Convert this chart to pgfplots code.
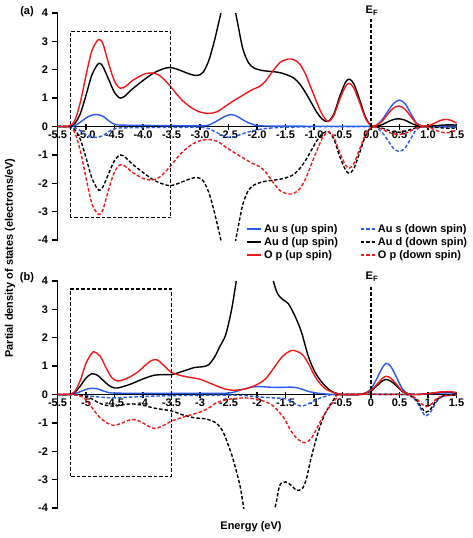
\documentclass[border=0pt]{standalone}
\usepackage{fontspec}
\setmainfont{Liberation Sans}
\usepackage{pgfplots}
\pgfplotsset{compat=1.18}
\definecolor{cblue}{RGB}{40,90,235}
\definecolor{cred}{RGB}{240,25,25}
\pgfplotsset{
  pdos/.style={
    scale only axis, width=399pt, height=227pt,
    xmin=-5.5, xmax=1.5, ymin=-4, ymax=4,
    axis x line=middle, axis y line=left,
    axis line style={-, line width=1.4pt, black},
    xtick={-5.5,-5,-4.5,-4,-3.5,-3,-2.5,-2,-1.5,-1,-0.5,0,0.5,1,1.5},
    ytick={-4,-3,-2,-1,0,1,2,3,4},
    hide obscured x ticks=false, hide obscured y ticks=false,
    xtick align=center, ytick align=outside,
    major tick length=6pt,
    tick style={line width=1.3pt, black},
    ticklabel style={font=\bfseries\fontsize{11}{13}\selectfont},
    xticklabel style={yshift=2.5pt},
    /pgf/number format/assume math mode=true,
    every axis plot/.append style={line width=1.4pt, smooth, tension=0.5, no markers},
  },
  dn/.style={dash pattern=on 3.5pt off 2pt},
}
\pgfplotsset{legend image code/.code={\draw[line width=1.4pt,#1] (0pt,0pt) -- (14pt,0pt);}}
\begin{document}
\begin{tikzpicture}
\path[use as bounding box] (0,0) rectangle (472pt,-538pt);
% ---------------- panel (a)
\begin{axis}[pdos, at={(57.5pt,-240pt)}, anchor=south west,
  xticklabel style={/pgf/number format/fixed, /pgf/number format/fixed zerofill, /pgf/number format/precision=1},
]
\addplot[cblue] coordinates {(-5.5,0) (-5.3,0) (-5.2,0.03) (-5.1,0.15) (-5.0,0.3) (-4.9,0.4) (-4.8,0.42) (-4.7,0.36) (-4.6,0.2) (-4.5,0.08) (-4.4,0.05) (-4.0,0.04) (-3.5,0.03) (-3.0,0.02) (-2.85,0.05) (-2.7,0.2) (-2.55,0.37) (-2.45,0.42) (-2.35,0.36) (-2.2,0.18) (-2.05,0.06) (-1.9,0.02) (-1.0,0.01) (0,0.01) (0.1,0.05) (0.2,0.25) (0.3,0.55) (0.4,0.82) (0.5,0.93) (0.6,0.8) (0.7,0.45) (0.8,0.12) (0.9,0.02) (1.0,0.01) (1.5,0.02)};
\addplot[cblue, dn] coordinates {(-5.5,0) (-5.3,0) (-5.2,-0.03) (-5.1,-0.15) (-5.0,-0.28) (-4.9,-0.37) (-4.8,-0.38) (-4.7,-0.32) (-4.6,-0.18) (-4.5,-0.08) (-4.4,-0.05) (-4.0,-0.04) (-3.5,-0.03) (-3.0,-0.03) (-2.85,-0.07) (-2.7,-0.22) (-2.55,-0.36) (-2.45,-0.39) (-2.35,-0.33) (-2.2,-0.22) (-2.0,-0.12) (-1.8,-0.06) (-1.5,-0.03) (-1.0,-0.01) (0,-0.01) (0.1,-0.05) (0.2,-0.22) (0.3,-0.5) (0.4,-0.78) (0.5,-0.88) (0.6,-0.75) (0.7,-0.42) (0.8,-0.1) (0.9,-0.02) (1.0,-0.01) (1.5,-0.02)};
\addplot[black] coordinates {(-5.5,0) (-5.3,0) (-5.2,0.1) (-5.1,0.45) (-5.0,1.1) (-4.9,1.8) (-4.8,2.18) (-4.75,2.22) (-4.7,2.1) (-4.6,1.65) (-4.5,1.2) (-4.4,1.0) (-4.3,1.1) (-4.2,1.3) (-4.0,1.62) (-3.8,1.9) (-3.6,2.06) (-3.5,2.07) (-3.4,2.02) (-3.3,1.94) (-3.15,1.83) (-3.05,1.8) (-2.95,1.9) (-2.85,2.3) (-2.75,3.0) (-2.65,3.85) (-2.55,4.7) (-2.45,4.7) (-2.35,3.75) (-2.25,2.75) (-2.15,2.25) (-2.05,2.06) (-1.9,1.97) (-1.75,1.94) (-1.6,1.9) (-1.45,1.8) (-1.35,1.7) (-1.25,1.5) (-1.15,1.2) (-1.05,0.85) (-0.95,0.5) (-0.85,0.25) (-0.75,0.18) (-0.65,0.45) (-0.55,1.05) (-0.45,1.55) (-0.38,1.67) (-0.3,1.5) (-0.2,0.95) (-0.1,0.35) (0,0.03) (0.1,0.02) (0.2,0.07) (0.3,0.17) (0.4,0.25) (0.5,0.27) (0.6,0.22) (0.7,0.12) (0.8,0.04) (0.9,0.01) (1.0,0.01) (1.2,0.04) (1.35,0.06) (1.5,0.05)};
\addplot[black, dn] coordinates {(-5.5,0) (-5.3,0) (-5.2,-0.1) (-5.1,-0.45) (-5.0,-1.1) (-4.9,-1.8) (-4.8,-2.2) (-4.75,-2.24) (-4.7,-2.12) (-4.6,-1.65) (-4.5,-1.2) (-4.4,-1.0) (-4.3,-1.1) (-4.2,-1.3) (-4.0,-1.62) (-3.8,-1.9) (-3.6,-2.06) (-3.5,-2.08) (-3.4,-2.02) (-3.3,-1.94) (-3.15,-1.83) (-3.05,-1.8) (-2.95,-1.9) (-2.85,-2.3) (-2.75,-3.0) (-2.65,-3.85) (-2.55,-4.7) (-2.45,-4.7) (-2.35,-3.75) (-2.25,-2.75) (-2.15,-2.25) (-2.05,-2.06) (-1.9,-1.95) (-1.75,-1.9) (-1.6,-1.86) (-1.45,-1.78) (-1.35,-1.68) (-1.25,-1.48) (-1.15,-1.2) (-1.05,-0.85) (-0.95,-0.5) (-0.85,-0.25) (-0.75,-0.18) (-0.65,-0.45) (-0.55,-1.05) (-0.45,-1.52) (-0.38,-1.65) (-0.3,-1.48) (-0.2,-0.93) (-0.1,-0.35) (0,-0.03) (0.1,-0.02) (0.2,-0.06) (0.3,-0.13) (0.4,-0.19) (0.5,-0.2) (0.6,-0.17) (0.7,-0.1) (0.8,-0.04) (0.9,-0.01) (1.0,-0.01) (1.2,-0.04) (1.35,-0.06) (1.5,-0.05)};
\addplot[cred] coordinates {(-5.5,0) (-5.3,0.02) (-5.2,0.2) (-5.1,0.85) (-5.0,1.8) (-4.9,2.65) (-4.8,3.03) (-4.75,3.05) (-4.7,2.9) (-4.6,2.2) (-4.5,1.6) (-4.4,1.35) (-4.3,1.42) (-4.2,1.6) (-4.0,1.83) (-3.9,1.88) (-3.8,1.88) (-3.7,1.78) (-3.6,1.6) (-3.5,1.37) (-3.4,1.12) (-3.3,0.9) (-3.15,0.66) (-3.0,0.51) (-2.85,0.46) (-2.7,0.52) (-2.55,0.72) (-2.4,0.92) (-2.25,1.1) (-2.1,1.28) (-1.95,1.42) (-1.85,1.6) (-1.75,1.88) (-1.6,2.25) (-1.45,2.38) (-1.35,2.35) (-1.25,2.2) (-1.15,1.85) (-1.05,1.35) (-0.95,0.85) (-0.85,0.4) (-0.75,0.18) (-0.65,0.4) (-0.55,0.95) (-0.45,1.4) (-0.38,1.52) (-0.3,1.35) (-0.2,0.85) (-0.1,0.3) (0,0.03) (0.1,0.05) (0.2,0.2) (0.3,0.45) (0.4,0.66) (0.5,0.72) (0.6,0.6) (0.7,0.35) (0.8,0.1) (0.9,0.02) (1.0,0.03) (1.1,0.1) (1.2,0.2) (1.3,0.25) (1.4,0.22) (1.5,0.12)};
\addplot[cred, dn] coordinates {(-5.5,0) (-5.3,-0.02) (-5.2,-0.2) (-5.1,-0.85) (-5.0,-1.8) (-4.9,-2.7) (-4.8,-3.07) (-4.75,-3.08) (-4.7,-2.92) (-4.6,-2.2) (-4.5,-1.6) (-4.4,-1.35) (-4.3,-1.42) (-4.2,-1.6) (-4.0,-1.83) (-3.9,-1.88) (-3.8,-1.87) (-3.7,-1.77) (-3.6,-1.58) (-3.5,-1.35) (-3.4,-1.1) (-3.3,-0.88) (-3.15,-0.64) (-3.0,-0.5) (-2.85,-0.46) (-2.7,-0.52) (-2.55,-0.72) (-2.4,-0.92) (-2.25,-1.1) (-2.1,-1.28) (-1.95,-1.42) (-1.85,-1.6) (-1.75,-1.88) (-1.6,-2.25) (-1.45,-2.38) (-1.35,-2.35) (-1.25,-2.2) (-1.15,-1.85) (-1.05,-1.35) (-0.95,-0.85) (-0.85,-0.4) (-0.75,-0.18) (-0.65,-0.38) (-0.55,-0.9) (-0.45,-1.35) (-0.38,-1.47) (-0.3,-1.3) (-0.2,-0.8) (-0.1,-0.3) (0,-0.03) (0.1,-0.03) (0.2,-0.1) (0.3,-0.2) (0.4,-0.26) (0.5,-0.28) (0.6,-0.24) (0.7,-0.15) (0.8,-0.05) (0.9,-0.01) (1.0,-0.03) (1.1,-0.1) (1.2,-0.18) (1.3,-0.22) (1.4,-0.2) (1.5,-0.12)};
\addplot[black, line width=1.1pt, sharp plot, dn] coordinates {(-5.27,-3.22) (-5.27,3.35) (-3.51,3.35) (-3.51,-3.22) (-5.27,-3.22)};
\addplot[black, line width=1.2pt, sharp plot, dn] coordinates {(0,0) (0,3.78)};
\end{axis}
% ---------------- legend (own hidden axis)
\begin{axis}[at={(246pt,-223pt)}, anchor=north west, scale only axis, width=224pt, height=44pt,
  hide axis, xmin=0, xmax=1, ymin=0, ymax=1,
  legend columns=2,
  legend cell align=left,
  legend style={at={(0,1)}, anchor=north west, draw=none, fill=none,
    font=\bfseries\fontsize{11}{13}\selectfont, inner sep=0pt, row sep=1.5pt,
    nodes={font=\bfseries\fontsize{11}{13}\selectfont, inner sep=1pt},
    column sep=1.5pt,
    /tikz/every even column/.append style={column sep=21pt}},
]
\addlegendimage{color=cblue}
\addlegendentry{Au s (up spin)}
\addlegendimage{color=cblue, dn}
\addlegendentry{Au s (down spin)}
\addlegendimage{color=black}
\addlegendentry{Au d (up spin)}
\addlegendimage{color=black, dn}
\addlegendentry{Au d (down spin)}
\addlegendimage{color=cred}
\addlegendentry{O p (up spin)}
\addlegendimage{color=cred, dn}
\addlegendentry{O p (down spin)}
\end{axis}
% ---------------- panel (b)
\begin{axis}[pdos, at={(57.5pt,-508pt)}, anchor=south west]
\addplot[cblue] coordinates {(-5.5,0) (-5.3,0) (-5.2,0.03) (-5.1,0.1) (-5.0,0.18) (-4.9,0.22) (-4.8,0.2) (-4.7,0.13) (-4.6,0.07) (-4.5,0.05) (-4.0,0.04) (-3.5,0.04) (-3.0,0.04) (-2.5,0.05) (-2.3,0.15) (-2.1,0.26) (-1.95,0.28) (-1.8,0.26) (-1.6,0.25) (-1.4,0.26) (-1.3,0.24) (-1.2,0.18) (-1.1,0.11) (-0.95,0.05) (-0.8,0.02) (-0.6,0) (-0.2,0) (-0.1,0.05) (0,0.2) (0.1,0.55) (0.2,0.95) (0.27,1.1) (0.35,0.98) (0.45,0.6) (0.55,0.2) (0.65,0.03) (0.8,0) (1.0,0.02) (1.3,0.06) (1.5,0.04)};
\addplot[cblue, dn] coordinates {(-5.5,0) (-5.3,0) (-5.1,-0.03) (-4.9,-0.06) (-4.7,-0.1) (-4.5,-0.12) (-4.3,-0.1) (-4.0,-0.07) (-3.5,-0.04) (-3.0,-0.03) (-2.5,-0.02) (-2.2,-0.04) (-2.0,-0.08) (-1.7,-0.12) (-1.5,-0.15) (-1.35,-0.3) (-1.25,-0.4) (-1.15,-0.38) (-1.05,-0.28) (-0.9,-0.13) (-0.75,-0.04) (-0.6,0) (0.6,0) (0.7,-0.05) (0.8,-0.25) (0.9,-0.6) (0.96,-0.76) (1.05,-0.6) (1.15,-0.25) (1.25,-0.07) (1.35,-0.03) (1.5,-0.02)};
\addplot[black] coordinates {(-5.5,0) (-5.3,0) (-5.2,0.07) (-5.1,0.3) (-5.0,0.58) (-4.9,0.73) (-4.8,0.68) (-4.7,0.5) (-4.6,0.32) (-4.5,0.23) (-4.4,0.25) (-4.2,0.38) (-4.0,0.55) (-3.8,0.68) (-3.6,0.7) (-3.5,0.7) (-3.3,0.82) (-3.1,0.95) (-2.95,0.98) (-2.85,1.05) (-2.75,1.3) (-2.65,1.7) (-2.55,2.1) (-2.45,2.95) (-2.37,3.92) (-2.25,5.5) (-2.0,6.5) (-1.75,4.3) (-1.65,3.6) (-1.55,3.35) (-1.45,3.2) (-1.33,2.75) (-1.22,2.2) (-1.1,1.35) (-0.98,0.78) (-0.84,0.38) (-0.7,0.12) (-0.58,0.03) (-0.5,0) (-0.2,0) (-0.1,0.05) (0,0.12) (0.1,0.3) (0.2,0.48) (0.27,0.53) (0.35,0.47) (0.45,0.3) (0.55,0.1) (0.65,0.02) (0.8,0) (1.0,0.03) (1.2,0.08) (1.35,0.1) (1.5,0.05)};
\addplot[black, dn] coordinates {(-5.5,0) (-5.3,0) (-5.1,-0.02) (-5.0,-0.06) (-4.9,-0.15) (-4.8,-0.27) (-4.65,-0.38) (-4.5,-0.41) (-4.35,-0.36) (-4.2,-0.33) (-4.0,-0.38) (-3.8,-0.48) (-3.5,-0.58) (-3.3,-0.72) (-3.1,-0.82) (-2.9,-0.86) (-2.72,-1.0) (-2.6,-1.3) (-2.5,-1.8) (-2.42,-2.28) (-2.3,-3.2) (-2.2,-4.3) (-2.0,-5.5) (-1.8,-4.6) (-1.68,-3.95) (-1.6,-3.2) (-1.5,-3.08) (-1.4,-3.2) (-1.3,-3.38) (-1.2,-3.3) (-1.13,-2.95) (-1.07,-2.4) (-0.98,-1.7) (-0.89,-1.1) (-0.8,-0.65) (-0.72,-0.38) (-0.62,-0.1) (-0.5,0) (0.6,0) (0.7,-0.05) (0.8,-0.2) (0.9,-0.5) (0.97,-0.62) (1.05,-0.5) (1.15,-0.2) (1.25,-0.06) (1.35,-0.03) (1.5,-0.02)};
\addplot[cred] coordinates {(-5.5,0) (-5.3,0.01) (-5.2,0.1) (-5.1,0.5) (-5.0,1.1) (-4.9,1.45) (-4.85,1.5) (-4.75,1.35) (-4.65,0.95) (-4.55,0.6) (-4.45,0.48) (-4.3,0.55) (-4.1,0.78) (-3.95,1.05) (-3.85,1.2) (-3.75,1.22) (-3.65,1.05) (-3.5,0.78) (-3.3,0.65) (-3.1,0.58) (-3.0,0.54) (-2.8,0.38) (-2.6,0.22) (-2.42,0.15) (-2.2,0.2) (-2.0,0.35) (-1.85,0.55) (-1.7,0.95) (-1.55,1.35) (-1.4,1.55) (-1.3,1.52) (-1.2,1.4) (-1.1,1.1) (-1.0,0.7) (-0.9,0.4) (-0.8,0.2) (-0.66,0.07) (-0.55,0.01) (-0.5,0) (-0.2,0) (-0.1,0.05) (0,0.15) (0.1,0.35) (0.2,0.57) (0.27,0.64) (0.35,0.57) (0.45,0.35) (0.55,0.12) (0.65,0.02) (0.8,0) (1.0,0.03) (1.2,0.08) (1.35,0.1) (1.5,0.07)};
\addplot[cred, dn] coordinates {(-5.5,0) (-5.25,0) (-5.1,-0.05) (-5.0,-0.18) (-4.9,-0.45) (-4.78,-0.76) (-4.65,-0.98) (-4.52,-1.09) (-4.4,-1.03) (-4.2,-0.88) (-4.05,-0.95) (-3.9,-1.12) (-3.79,-1.2) (-3.65,-1.1) (-3.5,-0.94) (-3.3,-0.8) (-3.0,-0.62) (-2.85,-0.48) (-2.71,-0.29) (-2.5,-0.17) (-2.24,-0.12) (-2.05,-0.15) (-1.89,-0.23) (-1.75,-0.35) (-1.65,-0.53) (-1.52,-0.85) (-1.42,-1.23) (-1.3,-1.55) (-1.16,-1.7) (-1.05,-1.55) (-0.95,-1.2) (-0.85,-0.8) (-0.72,-0.41) (-0.6,-0.12) (-0.5,0) (0.6,0) (0.7,-0.04) (0.8,-0.15) (0.9,-0.35) (0.97,-0.43) (1.05,-0.35) (1.15,-0.15) (1.25,-0.05) (1.35,-0.04) (1.5,-0.02)};
\addplot[black, line width=1.1pt, sharp plot, dn] coordinates {(-5.27,-2.88) (-5.27,3.72) (-3.5,3.72) (-3.5,-2.88) (-5.27,-2.88)};
\addplot[black, line width=1.2pt, sharp plot, dn] coordinates {(0,0) (0,3.79)};
\end{axis}
% ---------------- labels
\node[font=\bfseries\fontsize{11}{13}\selectfont] at (27pt,-12pt) {(a)};
\node[font=\bfseries\fontsize{11}{13}\selectfont] at (27pt,-278pt) {(b)};
\node[font=\bfseries\fontsize{11}{13}\selectfont] at (372pt,-11pt) {E\textsubscript{F}};
\node[font=\bfseries\fontsize{11}{13}\selectfont] at (372pt,-277pt) {E\textsubscript{F}};
\node[font=\bfseries\fontsize{11}{13}\selectfont, rotate=90] at (10pt,-258pt) {Partial density of states (electrons/eV)};
\node[font=\bfseries\fontsize{11}{13}\selectfont] at (251pt,-527pt) {Energy (eV)};
\end{tikzpicture}
\end{document}
